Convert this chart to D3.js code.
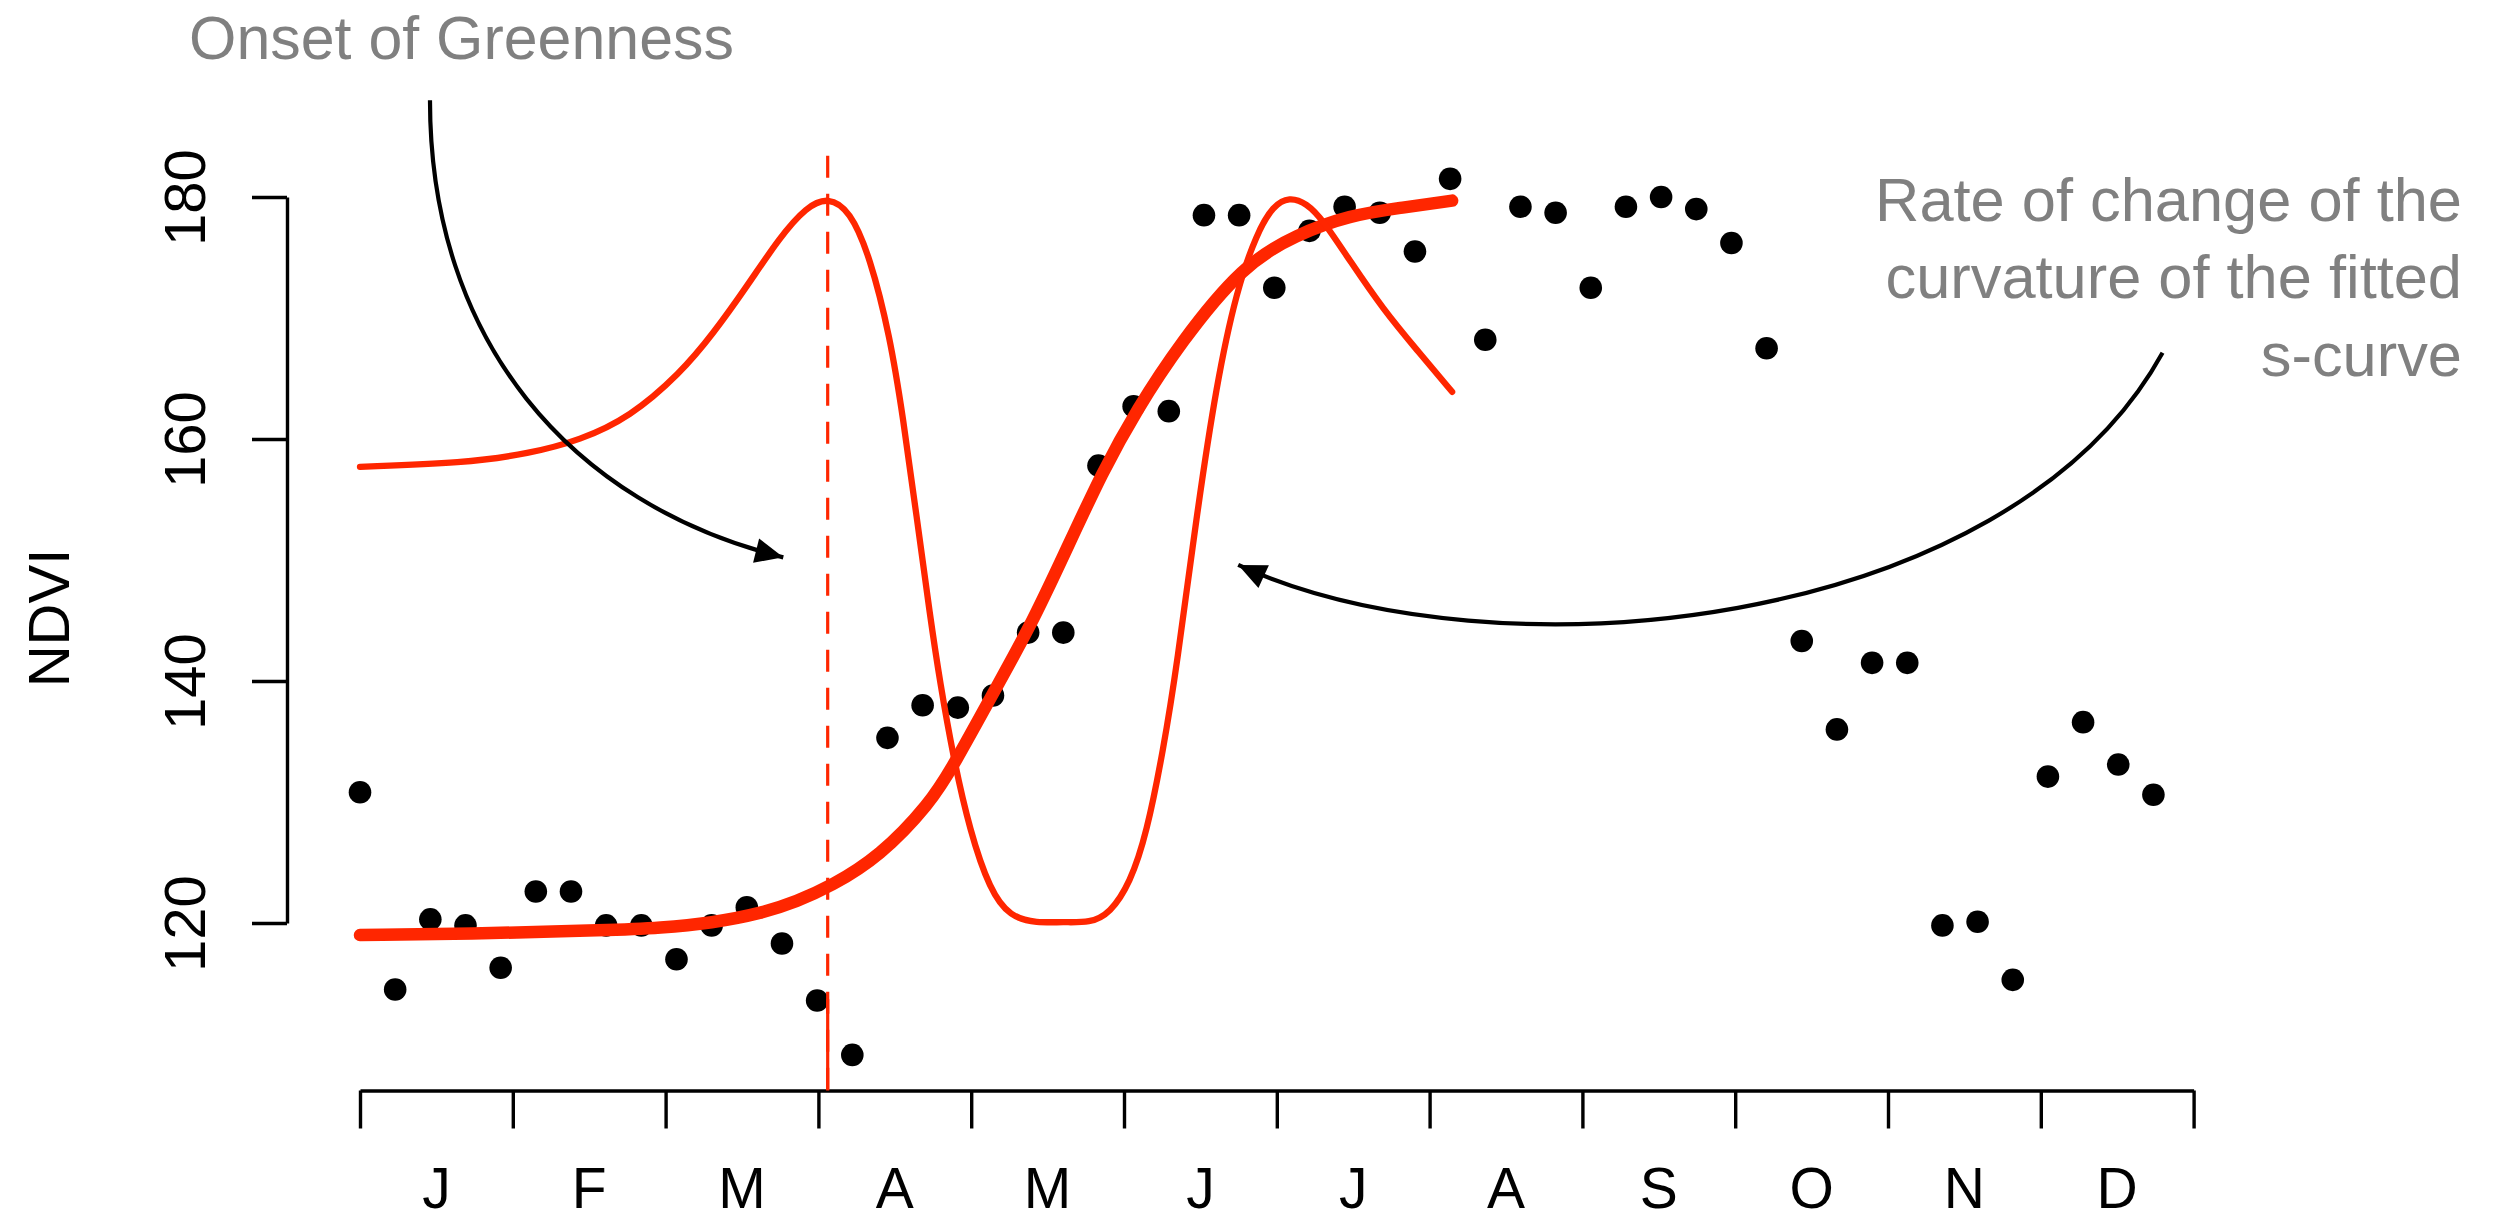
<!DOCTYPE html>
<html>
<head>
<meta charset="utf-8">
<script src="https://cdn.jsdelivr.net/npm/d3@7"></script>
<style>
html,body{margin:0;padding:0;background:#fff;overflow:hidden}
text{font-family:"Liberation Sans",Arial,Helvetica,sans-serif}
</style>
</head>
<body>
<svg id="chart" width="2498" height="1221"></svg>
<script>
// ---------------- data ----------------
const months = ["J","F","M","A","M","J","J","A","S","O","N","D"];
const yTicks = [120, 140, 160, 180];

// weekly observations (day of year) and NDVI
const obsDay = [0,7,14,21,28,35,42,49,56,63,70,77,84,91,98,105,112,119,126,133,140,147,154,161,168,175,182,189,196,203,210,217,224,231,238,245,252,259,266,273,280,287,294,301,308,315,322,329,336,343,350,357];
const obsNdvi = [130.8,114.5,120.3,119.8,116.3,122.6,122.6,119.8,119.8,117.0,119.8,121.3,118.3,113.6,109.1,135.3,138.0,137.8,138.8,144.0,144.0,157.8,162.7,162.3,178.5,178.5,172.5,177.2,179.2,178.7,175.5,181.5,168.2,179.2,178.7,172.5,179.2,180.0,179.0,176.2,167.5,143.3,136.0,141.5,141.5,119.8,120.1,115.3,132.1,136.6,133.1,130.6];

// fitted s-curve
const fitDay  = [0,27,49,60,70,80,87,93.6,103.5,113.5,118,126.7,133.4,140,147.9,154.6,163.2,175.8,186.4,197.1,207,217.4];
const fitNdvi = [119.0,119.15,119.4,119.6,120.0,120.8,121.8,123.0,125.5,129.9,132.9,139.5,144.5,150.3,157.4,162.4,167.9,174.4,176.9,178.5,179.1,179.7];

// rate of change of curvature (rescaled to the NDVI axis)
const curvDay  = [0,20.6,33.8,43.8,53.7,63.7,70.3,77,83.6,88.9,93.2,97.5,101.5,105.5,108.1,110.8,113.5,115.45,118.1,121.4,125.4,129.4,134.7,140,145.3,149.3,153.3,156.6,159.9,162.6,166.5,170.5,174.5,178.5,181.8,185,188.4,191.7,197.1,203.7,210.3,217.4];
const curvNdvi = [157.7,158.0,158.8,159.9,161.8,165.4,168.7,172.6,176.7,179.2,180.0,178.9,175.1,168.5,161.8,153.6,145.3,139.9,133.7,127.6,122.7,120.5,120.0,120.1,120.0,120.8,123.3,127.4,134.3,141.2,153.6,164.6,172.3,177.0,179.3,180.0,179.5,178.1,174.7,170.7,167.4,163.9];

// onset of greenness
const onsetDay = 93.1;
const onsetTop = 183.4;
const onsetSolidFrom = 113.7;

// annotation arrows: cubic Bezier control points (day, NDVI)
const arrowOnsetDay  = [13.93, 13.93, 41.74, 84.26];
const arrowOnsetNdvi = [188.0, 168.18, 154.59, 150.22];
const arrowRateDay   = [358.82, 328.12, 225.42, 174.82];
const arrowRateNdvi  = [167.13, 143.97, 139.92, 149.59];

const onsetLabel = "Onset of Greenness";
const rateLabel = ["Rate of change of the", "curvature of the fitted", "s-curve"];
const yLabel = "NDVI";

// ---------------- drawing ----------------
const RED = "#ff2600";
const svg = d3.select("#chart");
svg.append("rect").attr("width",2498).attr("height",1221).attr("fill","#fff");

const x = d3.scaleLinear().domain([0, 365]).range([360, 2193.6]);
const y = d3.scaleLinear().domain([120, 180]).range([923, 197]);
const xAxisY = 1090.5;
const yAxisX = 287;

// x axis
const monthStarts = months.map((m, i) => i * 365 / 12).concat([365]);
const gx = svg.append("g").attr("transform", `translate(0,${xAxisY})`)
  .call(d3.axisBottom(x).tickValues(monthStarts).tickSize(38).tickSizeOuter(0).tickFormat(""));
gx.selectAll("path,line").attr("stroke", "#000").attr("stroke-width", 3.4);

svg.selectAll("text.month").data(months).join("text")
  .attr("class", "month")
  .attr("x", (d, i) => x((i + 0.5) * 365 / 12))
  .attr("y", 1208)
  .attr("text-anchor", "middle")
  .attr("font-size", 57)
  .attr("fill", "#000")
  .text(d => d);

// y axis
const gy = svg.append("g").attr("transform", `translate(${yAxisX},0)`)
  .call(d3.axisLeft(y).tickValues(yTicks).tickSize(35).tickSizeOuter(0));
gy.selectAll("path,line").attr("stroke", "#000").attr("stroke-width", 3.4);
gy.selectAll("text")
  .attr("x", null).attr("dy", null)
  .attr("text-anchor", "middle")
  .attr("transform", "translate(-82,0) rotate(-90)")
  .attr("font-size", 58)
  .attr("font-family", '"Liberation Sans",Arial,sans-serif')
  .attr("fill", "#000");

svg.append("text")
  .attr("transform", `translate(69,618) rotate(-90)`)
  .attr("text-anchor", "middle")
  .attr("font-size", 58)
  .attr("fill", "#000")
  .text(yLabel);

// points
svg.selectAll("circle.obs").data(obsDay).join("circle")
  .attr("class", "obs")
  .attr("cx", d => x(d))
  .attr("cy", (d, i) => y(obsNdvi[i]))
  .attr("r", 11.3)
  .attr("fill", "#000");

// dashed onset line
svg.append("line")
  .attr("x1", x(onsetDay)).attr("x2", x(onsetDay))
  .attr("y1", y(onsetTop)).attr("y2", xAxisY)
  .attr("stroke", RED).attr("stroke-width", 3.2)
  .attr("stroke-dasharray", "22 16");
svg.append("line")
  .attr("x1", x(onsetDay)).attr("x2", x(onsetDay))
  .attr("y1", y(onsetSolidFrom)).attr("y2", xAxisY)
  .attr("stroke", RED).attr("stroke-width", 3.2);

// fitted s-curve
const line = d3.line().curve(d3.curveBasis);
svg.append("path")
  .attr("d", line(fitDay.map((d, i) => [x(d), y(fitNdvi[i])])))
  .attr("fill", "none").attr("stroke", RED).attr("stroke-width", 12.5)
  .attr("stroke-linecap", "round").attr("stroke-linejoin", "round");

// curvature-rate curve
svg.append("path")
  .attr("d", line(curvDay.map((d, i) => [x(d), y(curvNdvi[i])])))
  .attr("fill", "none").attr("stroke", RED).attr("stroke-width", 6.3)
  .attr("stroke-linecap", "round").attr("stroke-linejoin", "round");

// arrows
function drawArrow(days, vals) {
  const pts = days.map((d, i) => [x(d), y(vals[i])]);
  const p = d3.path();
  p.moveTo(pts[0][0], pts[0][1]);
  p.bezierCurveTo(pts[1][0], pts[1][1], pts[2][0], pts[2][1], pts[3][0], pts[3][1]);
  svg.append("path")
    .attr("d", p.toString())
    .attr("fill", "none").attr("stroke", "#000").attr("stroke-width", 4.2);
  const tip = pts[3], prev = pts[2];
  const ang = Math.atan2(tip[1] - prev[1], tip[0] - prev[0]);
  const L = 28, W = 12.5;
  const bx = tip[0] - L * Math.cos(ang), by = tip[1] - L * Math.sin(ang);
  const nx = -Math.sin(ang), ny = Math.cos(ang);
  svg.append("path")
    .attr("d", `M${tip[0]},${tip[1]}L${bx + W * nx},${by + W * ny}L${bx - W * nx},${by - W * ny}Z`)
    .attr("fill", "#000");
}
drawArrow(arrowOnsetDay, arrowOnsetNdvi);
drawArrow(arrowRateDay, arrowRateNdvi);

// gray annotations
const grayFont = 'Roboto,"Helvetica Neue",Helvetica,Arial,sans-serif';
const t1 = svg.append("text")
  .attr("x", 461.5).attr("y", 59)
  .attr("text-anchor", "middle")
  .attr("font-family", grayFont).attr("font-weight", 300)
  .attr("font-size", 61).attr("fill", "#808080")
  .text(onsetLabel);
const w1 = t1.node().getComputedTextLength();
t1.attr("font-size", 61 * 545 / w1);

const rt = svg.append("g");
const rLines = rt.selectAll("text").data(rateLabel).join("text")
  .attr("x", 2462).attr("y", (d, i) => 221 + i * 77.3)
  .attr("text-anchor", "end")
  .attr("font-family", grayFont).attr("font-weight", 300)
  .attr("font-size", 61).attr("fill", "#808080")
  .text(d => d);
const w2 = rLines.nodes()[0].getComputedTextLength();
rLines.attr("font-size", 61 * 587 / w2);
</script>
</body>
</html>
